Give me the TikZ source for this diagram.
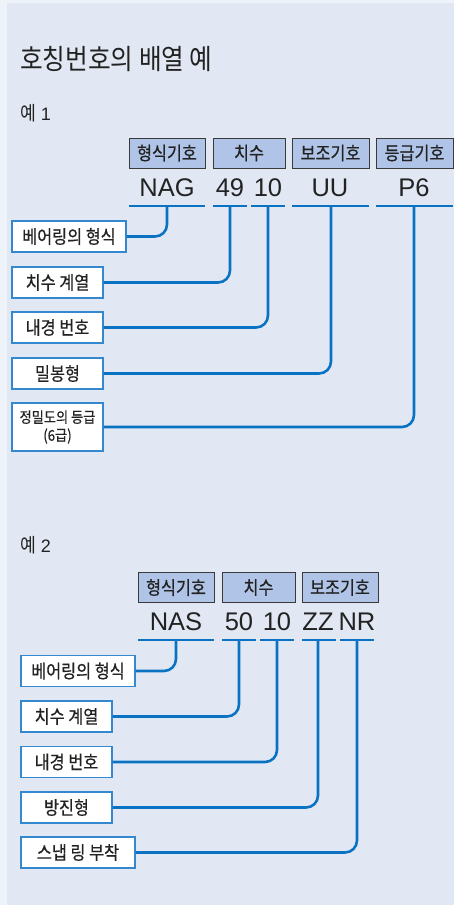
\documentclass[tikz,border=0pt]{standalone}
\usepackage{fontspec}
\setmainfont{Liberation Sans}
\newfontfamily\kr[FakeStretch=0.88,FakeBold=0.6]{Noto Sans CJK KR}
\newfontfamily\krt[FakeStretch=0.88]{Noto Sans CJK KR}
\definecolor{panel}{HTML}{E1E8F4}
\definecolor{outer}{HTML}{EEF3FA}
\definecolor{hdrfill}{HTML}{AFC4E6}
\definecolor{hdrline}{HTML}{3A3A3A}
\definecolor{lineblue}{HTML}{0A72C2}
\definecolor{boxblue}{HTML}{3388D0}
\definecolor{txt}{HTML}{222222}
\tikzset{
  hdr/.style={draw=hdrline, fill=hdrfill, line width=0.9pt, minimum height=30pt, inner sep=0pt, text=txt, font=\kr\fontsize{18.5}{18.5}\selectfont},
  code/.style={inner sep=0pt, text=txt, font=\fontsize{25.5}{25.5}\selectfont},
  lab/.style={draw=boxblue, fill=white, line width=1.2pt, minimum height=31pt, inner sep=0pt, text=txt, font=\kr\fontsize{18.5}{18.5}\selectfont},
  uline/.style={draw=lineblue, line width=2.6pt},
  conn/.style={draw=lineblue, line width=2.6pt, rounded corners=12pt},
  ttl/.style={anchor=west, inner sep=0pt, text=txt}
}
\begin{document}
\begin{tikzpicture}[x=1pt,y=-1pt]
\fill[outer] (0,0) rectangle (454,905);
\fill[panel] (7,3) rectangle (454,905);
\useasboundingbox (0,0) rectangle (454,905);

\node[ttl, font=\krt\fontsize{28}{28}\selectfont] (title) at (20,59.5) {호칭번호의 배열 예};
\node[ttl, font=\fontsize{18}{18}\selectfont] (ex1) at (20,113) {{\krt\fontsize{19.5}{19.5}\selectfont 예} 1};

% Example 1 headers
\node[hdr, minimum width=76pt] (h1) at (167,153) {형식기호};
\node[hdr, minimum width=72pt] (h2) at (249,153) {치수};
\node[hdr, minimum width=77pt] (h3) at (330.5,153) {보조기호};
\node[hdr, minimum width=77pt] (h4) at (414.5,153) {등급기호};

\node[code] (t1) at (167,187.5) {NAG};
\node[code] (t2) at (230,187.5) {49};
\node[code] (t3) at (268,187.5) {10};
\node[code] (t4) at (330,187.5) {UU};
\node[code] (t5) at (414,187.5) {P6};

\draw[uline] (129,206) -- (205,206);
\draw[uline] (213,206) -- (247,206);
\draw[uline] (251,206) -- (285,206);
\draw[uline] (292,206) -- (369,206);
\draw[uline] (376,206) -- (453,206);
\coordinate (u1) at (167,206);
\coordinate (u2) at (230,206);
\coordinate (u3) at (268,206);
\coordinate (u4) at (331,206);
\coordinate (u5) at (414,206);

\node[lab, minimum width=114pt] (l1) at (69,236.5) {베어링의 형식};
\node[lab, minimum width=91pt] (l2) at (57.5,282.5) {치수 계열};
\node[lab, minimum width=91pt] (l3) at (57.5,327.5) {내경 번호};
\node[lab, minimum width=91pt] (l4) at (57.5,373.5) {밀봉형};
\node[lab, minimum width=91pt, minimum height=48pt, align=center, font=\kr\fontsize{15}{18}\selectfont] (l5) at (57.5,427) {정밀도의 등급\\(6급)};

\draw[conn] (u1) |- (l1.east);
\draw[conn] (u2) |- (l2.east);
\draw[conn] (u3) |- (l3.east);
\draw[conn] (u4) |- (l4.east);
\draw[conn] (u5) |- (l5.east);

% Example 2
\node[ttl, font=\fontsize{18}{18}\selectfont] (ex2) at (20,545) {{\krt\fontsize{19.5}{19.5}\selectfont 예} 2};

\node[hdr, minimum width=76pt] (k1) at (176,587.5) {형식기호};
\node[hdr, minimum width=73pt] (k2) at (258.5,587.5) {치수};
\node[hdr, minimum width=76pt] (k3) at (340,587.5) {보조기호};

\node[code] (s1) at (176,622) {NAS};
\node[code] (s2) at (239,622) {50};
\node[code] (s3) at (277,622) {10};
\node[code] (s4) at (318,622) {ZZ};
\node[code] (s5) at (357,622) {NR};

\draw[uline] (138,640) -- (214,640);
\draw[uline] (222,640) -- (256,640);
\draw[uline] (260,640) -- (294,640);
\draw[uline] (302,640) -- (336,640);
\draw[uline] (340,640) -- (374,640);
\coordinate (v1) at (176,640);
\coordinate (v2) at (239,640);
\coordinate (v3) at (277,640);
\coordinate (v4) at (318,640);
\coordinate (v5) at (357,640);

\node[lab, minimum width=114pt] (m1) at (78,671) {베어링의 형식};
\node[lab, minimum width=91pt] (m2) at (66.5,716.5) {치수 계열};
\node[lab, minimum width=91pt] (m3) at (66.5,762) {내경 번호};
\node[lab, minimum width=91pt] (m4) at (66.5,807.5) {방진형};
\node[lab, minimum width=114pt] (m5) at (78,852.5) {스냅 링 부착};

\draw[conn] (v1) |- (m1.east);
\draw[conn] (v2) |- (m2.east);
\draw[conn] (v3) |- (m3.east);
\draw[conn] (v4) |- (m4.east);
\draw[conn] (v5) |- (m5.east);
\end{tikzpicture}
\end{document}
